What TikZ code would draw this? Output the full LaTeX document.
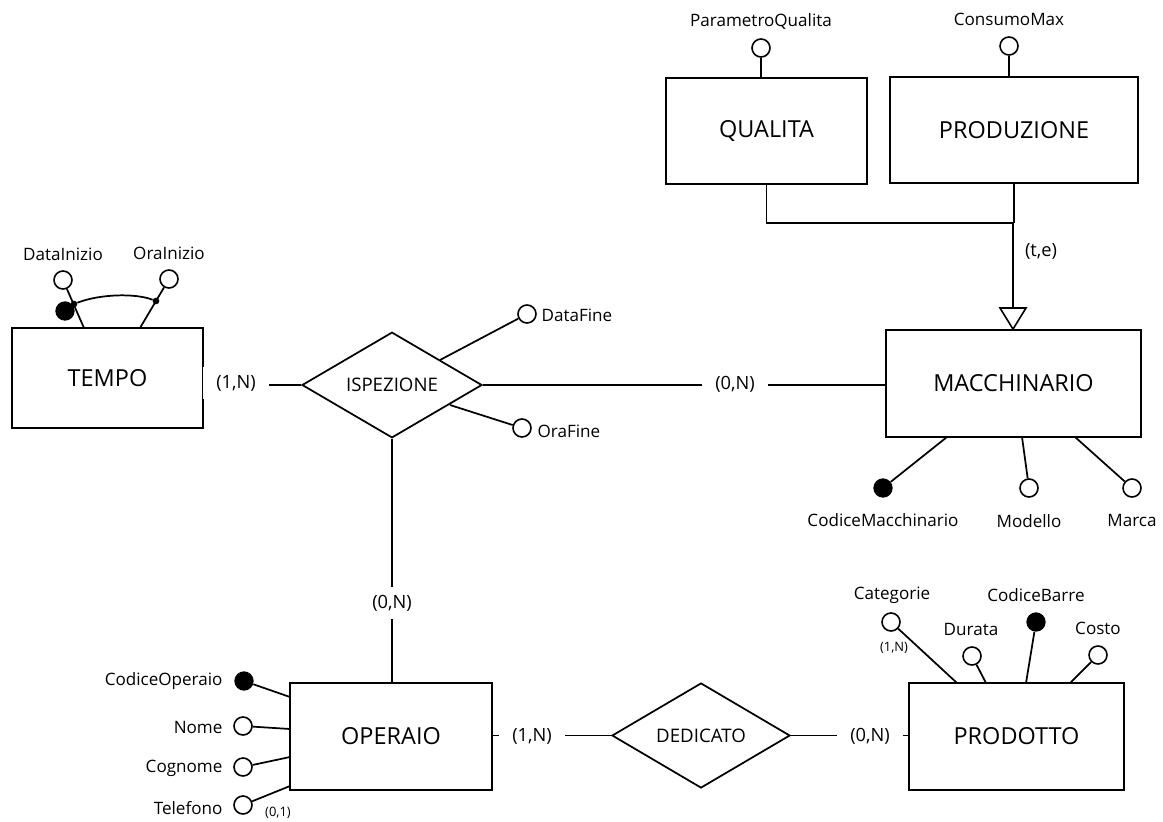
\documentclass[tikz,border=0pt]{standalone}
\usepackage{fontspec}
\setmainfont{Open Sans}
\usetikzlibrary{shapes.geometric,calc}
\begin{document}
\begin{tikzpicture}[x=0.75pt,y=-0.75pt,
  every node/.style={inner sep=1pt},
  ent/.style={draw,rectangle,line width=1.3pt,font=\fontsize{17.6}{20}\selectfont},
  rel/.style={draw,diamond,line width=1.3pt,inner sep=0pt,font=\fontsize{14}{16}\selectfont},
  attr/.style={draw,circle,line width=1.2pt,minimum size=13.5pt,inner sep=0pt,fill=white},
  keyattr/.style={circle,fill=black,minimum size=14.5pt,inner sep=0pt},
  lbl/.style={font=\fontsize{12.8}{15}\selectfont},
  card/.style={fill=white,inner xsep=10pt,inner ysep=6pt,font=\fontsize{13.7}{16}\selectfont},
  smallcard/.style={font=\fontsize{9.7}{11}\selectfont},
  conn/.style={line width=1.3pt},
  dot/.style={circle,fill=black,minimum size=5pt,inner sep=0pt}
]
\useasboundingbox (0,0) rectangle (1163,821);

% entities
\node[ent,minimum width=143.25pt,minimum height=75pt] (tempo) at (107.5,378) {TEMPO};
\node[ent,minimum width=150.75pt,minimum height=79.5pt] (qualita) at (766.5,131) {QUALITA};
\node[ent,minimum width=186pt,minimum height=79.5pt] (produzione) at (1014,130) {PRODUZIONE};
\node[ent,minimum width=191.25pt,minimum height=80.25pt] (macchinario) at (1013.5,383.5) {MACCHINARIO};
\node[ent,minimum width=151.5pt,minimum height=80.25pt] (operaio) at (391,736.5) {OPERAIO};
\node[ent,minimum width=161.25pt,minimum height=80.25pt] (prodotto) at (1016.5,736.5) {PRODOTTO};

% relationships
\node[rel,minimum width=135pt,minimum height=78pt] (ispezione) at (392,385) {ISPEZIONE};
\node[rel,minimum width=133.5pt,minimum height=78.75pt] (dedicato) at (701,735.5) {DEDICATO};

% relationship connectors
\draw[conn] (ispezione.west) -- (ispezione.west -| tempo.east);
\draw[conn] (ispezione.east) -- (ispezione.east -| macchinario.west);
\draw[conn] (ispezione.south) -- (ispezione.south |- operaio.north);
\draw[conn] (dedicato.west) -- (dedicato.west -| operaio.east);
\draw[conn] (dedicato.east) -- (dedicato.east -| prodotto.west);

\node[card] (c1) at (236,383) {(1,N)};
\node[card] (c2) at (735,384) {(0,N)};
\node[card] (c3) at (392,603) {(0,N)};
\node[card] (c4) at (532,736) {(1,N)};
\node[card] (c5) at (870,736) {(0,N)};

% generalization
\coordinate (isaj) at (1013,223);
\coordinate (isat) at (1013,308);
\draw[conn] (qualita.south) |- (isaj);
\draw[conn] (produzione.south) -- (produzione.south |- isaj);
\draw[conn] (isaj) -- (isat);
\draw[line width=1.2pt,fill=white] (1000,308) -- (1026,308) -- (macchinario.north -| isat) -- cycle;
\node[font=\fontsize{13.7}{16}\selectfont] (te) at (1041,251) {(t,e)};

% TEMPO attributes
\node[attr] (datainizio) at (63,280) {};
\node[attr] (orainizio) at (169,279) {};
\coordinate (t1) at (84,328);
\coordinate (t2) at (140,328);
\draw[conn] (datainizio) -- (t1);
\draw[conn] (orainizio) -- (t2);
\node[dot] (d1) at (74,304) {};
\node[dot] (d2) at (156,301) {};
\draw[conn] (d1) .. controls (100,294) and (135,293) .. (d2);
\node[keyattr] (tkey) at (65,311) {};
\node[lbl] (ldatainizio) at (63,254) {DataInizio};
\node[lbl] (lorainizio) at (169,253) {OraInizio};

% QUALITA / PRODUZIONE attributes
\node[attr] (parq) at (761,48) {};
\draw[conn] (parq) -- (parq |- qualita.north);
\node[lbl] (lparq) at (761,21) {ParametroQualita};
\node[attr] (cmax) at (1009,46) {};
\draw[conn] (cmax) -- (cmax |- produzione.north);
\node[lbl] (lcmax) at (1009,19) {ConsumoMax};

% ISPEZIONE attributes
\node[attr] (datafine) at (527,314) {};
\node[attr] (orafine) at (522,428) {};
\coordinate (i1) at (440,360);
\coordinate (i2) at (450,405);
\draw[conn] (i1) -- (datafine);
\draw[conn] (i2) -- (orafine);
\node[lbl,anchor=west] (ldatafine) at (540,315) {DataFine};
\node[lbl,anchor=west] (lorafine) at (536,431) {OraFine};

% MACCHINARIO attributes
\node[keyattr] (codm) at (883,488) {};
\node[attr] (modello) at (1029,488) {};
\node[attr] (marca) at (1132,488) {};
\coordinate (m1) at (947,437);
\coordinate (m2) at (1022,437);
\coordinate (m3) at (1075,437);
\draw[conn] (m1) -- (codm);
\draw[conn] (m2) -- (modello);
\draw[conn] (m3) -- (marca);
\node[lbl] (lcodm) at (883,520) {CodiceMacchinario};
\node[lbl] (lmodello) at (1029,521) {Modello};
\node[lbl] (lmarca) at (1132,520) {Marca};

% PRODOTTO attributes
\node[attr] (categorie) at (891,622) {};
\node[attr] (durata) at (972,656) {};
\node[keyattr] (codb) at (1036,622) {};
\node[attr] (costo) at (1098,655) {};
\coordinate (p1) at (957,683);
\coordinate (p2) at (986,683);
\coordinate (p3) at (1026,683);
\coordinate (p4) at (1070,683);
\draw[conn] (p1) -- (categorie);
\draw[conn] (p2) -- (durata);
\draw[conn] (p3) -- (codb);
\draw[conn] (p4) -- (costo);
\node[lbl] (lcategorie) at (892,595) {Categorie};
\node[smallcard] (ccat) at (894,648) {(1,N)};
\node[lbl] (ldurata) at (971,629) {Durata};
\node[lbl] (lcodb) at (1036,595) {CodiceBarre};
\node[lbl] (lcosto) at (1098,628) {Costo};

% OPERAIO attributes
\node[keyattr] (codo) at (244,681) {};
\node[attr] (nome) at (243,726) {};
\node[attr] (cognome) at (243,767) {};
\node[attr] (telefono) at (243,805) {};
\coordinate (o1) at (290,697);
\coordinate (o2) at (290,729);
\coordinate (o3) at (290,757);
\coordinate (o4) at (290,786);
\draw[conn] (o1) -- (codo);
\draw[conn] (o2) -- (nome);
\draw[conn] (o3) -- (cognome);
\draw[conn] (o4) -- (telefono);
\node[lbl,anchor=east] (lcodo) at (224,681) {CodiceOperaio};
\node[lbl,anchor=east] (lnome) at (224,727) {Nome};
\node[lbl,anchor=east] (lcognome) at (224,768) {Cognome};
\node[lbl,anchor=east] (ltelefono) at (224,808) {Telefono};
\node[smallcard] (ctel) at (278,813) {(0,1)};
\end{tikzpicture}
\end{document}
